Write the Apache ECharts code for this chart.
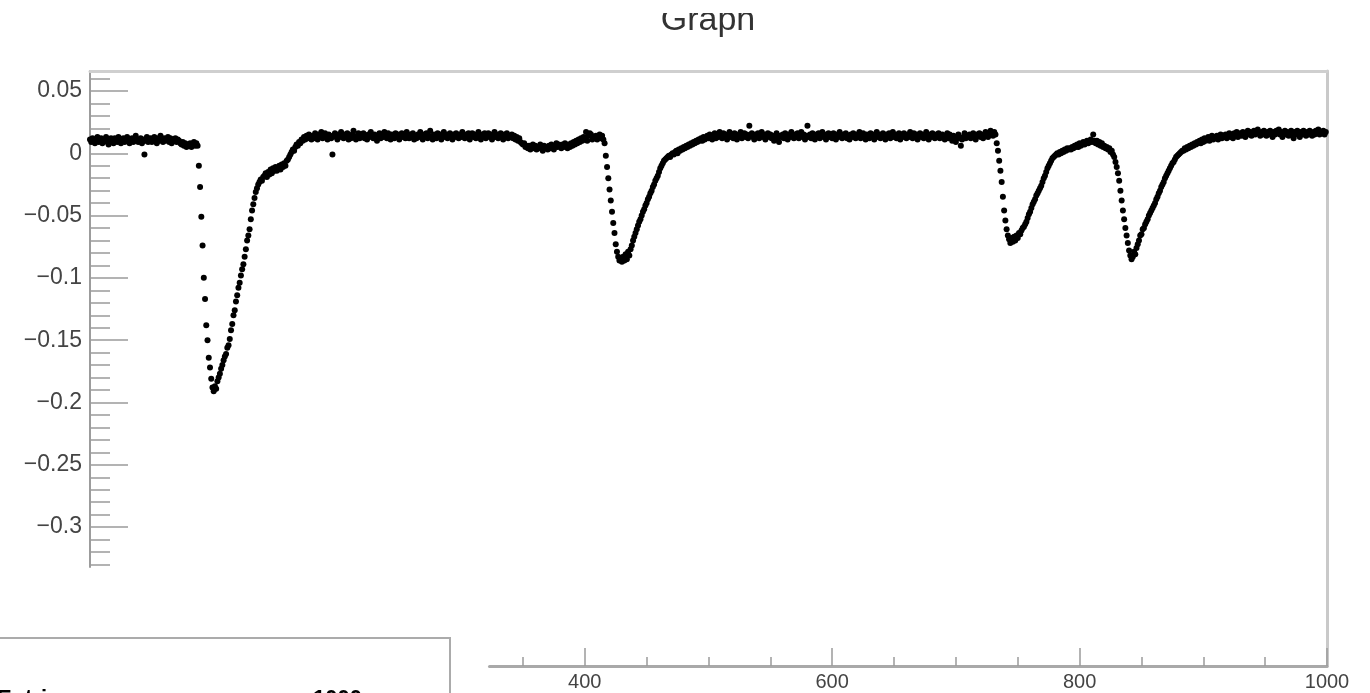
<!DOCTYPE html>
<html>
<head>
<meta charset="utf-8">
<script src="https://cdn.jsdelivr.net/npm/echarts@6/dist/echarts.min.js"></script>
<style>
  html, body { margin: 0; padding: 0; background: #fff; }
  #chart { width: 1370px; height: 693px; }
</style>
</head>
<body>
<div id="chart"></div>
<script>
// Sampled waveform: one value per sample index 0..999
const amplitude = [
  /*   0 */ 0.011, 0.009, 0.012, 0.010, 0.008, 0.011, 0.013, 0.009, 0.010, 0.012,
  /*  10 */ 0.008, 0.011, 0.010, 0.013, 0.009, 0.007, 0.011, 0.012, 0.010, 0.008,
  /*  20 */ 0.012, 0.010, 0.009, 0.013, 0.011, 0.008, 0.010, 0.012, 0.009, 0.011,
  /*  30 */ 0.013, 0.010, 0.008, 0.011, 0.012, 0.009, 0.010, 0.014, 0.011, 0.009,
  /*  40 */ 0.010, 0.012, 0.008, 0.011, -0.001, 0.010, 0.013, 0.009, 0.011, 0.012,
  /*  50 */ 0.009, 0.010, 0.013, 0.011, 0.008, 0.012, 0.010, 0.014, 0.011, 0.009,
  /*  60 */ 0.012, 0.010, 0.011, 0.013, 0.009, 0.012, 0.008, 0.011, 0.010, 0.012,
  /*  70 */ 0.009, 0.011, 0.010, 0.008, 0.007, 0.009, 0.006, 0.008, 0.005, 0.007,
  /*  80 */ 0.006, 0.008, 0.005, 0.007, 0.009, 0.006, 0.008, 0.006, -0.010, -0.027,
  /*  90 */ -0.051, -0.074, -0.100, -0.117, -0.138, -0.150, -0.164, -0.172, -0.181, -0.188,
  /* 100 */ -0.191, -0.187, -0.189, -0.183, -0.180, -0.177, -0.173, -0.170, -0.166, -0.163,
  /* 110 */ -0.161, -0.156, -0.154, -0.149, -0.142, -0.137, -0.130, -0.126, -0.119, -0.114,
  /* 120 */ -0.108, -0.104, -0.098, -0.093, -0.089, -0.083, -0.077, -0.070, -0.066, -0.061,
  /* 130 */ -0.053, -0.046, -0.041, -0.036, -0.031, -0.028, -0.025, -0.023, -0.021, -0.022,
  /* 140 */ -0.019, -0.018, -0.016, -0.019, -0.015, -0.017, -0.013, -0.016, -0.012, -0.014,
  /* 150 */ -0.011, -0.014, -0.012, -0.010, -0.013, -0.009, -0.011, -0.008, -0.010, -0.006,
  /* 160 */ -0.005, -0.003, -0.001, 0.001, 0.003, 0.002, 0.005, 0.007, 0.006, 0.009,
  /* 170 */ 0.008, 0.011, 0.010, 0.013, 0.011, 0.014, 0.012, 0.015, 0.013, 0.011,
  /* 180 */ 0.014, 0.012, 0.016, 0.013, 0.011, 0.015, 0.013, 0.017, 0.012, 0.014,
  /* 190 */ 0.016, 0.013, 0.011, 0.015, 0.014, 0.012, -0.001, 0.014, 0.016, 0.013,
  /* 200 */ 0.011, 0.015, 0.013, 0.017, 0.014, 0.012, 0.015, 0.013, 0.016, 0.011,
  /* 210 */ 0.014, 0.012, 0.015, 0.018, 0.013, 0.011, 0.014, 0.016, 0.012, 0.015,
  /* 220 */ 0.013, 0.016, 0.012, 0.014, 0.011, 0.015, 0.013, 0.017, 0.014, 0.012,
  /* 230 */ 0.015, 0.013, 0.010, 0.014, 0.016, 0.012, 0.015, 0.013, 0.017, 0.014,
  /* 240 */ 0.012, 0.016, 0.013, 0.011, 0.015, 0.014, 0.012, 0.016, 0.013, 0.015,
  /* 250 */ 0.011, 0.014, 0.016, 0.013, 0.015, 0.012, 0.017, 0.014, 0.012, 0.015,
  /* 260 */ 0.013, 0.016, 0.011, 0.014, 0.012, 0.015, 0.013, 0.017, 0.014, 0.011,
  /* 270 */ 0.015, 0.013, 0.016, 0.012, 0.014, 0.018, 0.013, 0.011, 0.015, 0.014,
  /* 280 */ 0.012, 0.016, 0.013, 0.015, 0.011, 0.014, 0.017, 0.013, 0.015, 0.012,
  /* 290 */ 0.014, 0.016, 0.013, 0.011, 0.015, 0.013, 0.016, 0.014, 0.012, 0.015,
  /* 300 */ 0.013, 0.017, 0.014, 0.012, 0.015, 0.013, 0.016, 0.011, 0.014, 0.016,
  /* 310 */ 0.013, 0.015, 0.012, 0.014, 0.017, 0.013, 0.011, 0.015, 0.014, 0.016,
  /* 320 */ 0.012, 0.014, 0.016, 0.013, 0.015, 0.011, 0.014, 0.017, 0.013, 0.015,
  /* 330 */ 0.012, 0.014, 0.016, 0.013, 0.011, 0.015, 0.013, 0.016, 0.012, 0.014,
  /* 340 */ 0.013, 0.015, 0.012, 0.014, 0.011, 0.013, 0.010, 0.012, 0.009, 0.008,
  /* 350 */ 0.007, 0.008, 0.005, 0.006, 0.004, 0.006, 0.003, 0.005, 0.007, 0.004,
  /* 360 */ 0.006, 0.003, 0.005, 0.004, 0.007, 0.005, 0.002, 0.006, 0.004, 0.005,
  /* 370 */ 0.003, 0.006, 0.004, 0.007, 0.005, 0.003, 0.006, 0.008, 0.005, 0.007,
  /* 380 */ 0.006, 0.004, 0.007, 0.005, 0.008, 0.006, 0.004, 0.007, 0.005, 0.008,
  /* 390 */ 0.006, 0.009, 0.007, 0.010, 0.008, 0.011, 0.009, 0.012, 0.010, 0.013,
  /* 400 */ 0.011, 0.017, 0.010, 0.014, 0.016, 0.015, 0.011, 0.013, 0.012, 0.014,
  /* 410 */ 0.011, 0.013, 0.015, 0.012, 0.014, 0.011, 0.008, -0.002, -0.011, -0.020,
  /* 420 */ -0.029, -0.038, -0.047, -0.056, -0.064, -0.073, -0.079, -0.083, -0.086, -0.084,
  /* 430 */ -0.087, -0.083, -0.086, -0.081, -0.085, -0.079, -0.082, -0.077, -0.074, -0.070,
  /* 440 */ -0.067, -0.064, -0.061, -0.058, -0.055, -0.053, -0.050, -0.047, -0.045, -0.042,
  /* 450 */ -0.040, -0.037, -0.035, -0.032, -0.030, -0.027, -0.025, -0.022, -0.020, -0.018,
  /* 460 */ -0.015, -0.012, -0.010, -0.008, -0.006, -0.005, -0.004, -0.003, -0.002, -0.003,
  /* 470 */ -0.001, 0.000, -0.001, 0.001, 0.002, 0.000, 0.003, 0.002, 0.004, 0.003,
  /* 480 */ 0.005, 0.004, 0.006, 0.005, 0.007, 0.006, 0.008, 0.007, 0.009, 0.008,
  /* 490 */ 0.010, 0.009, 0.011, 0.010, 0.012, 0.010, 0.013, 0.011, 0.012, 0.014,
  /* 500 */ 0.012, 0.015, 0.013, 0.011, 0.014, 0.016, 0.012, 0.015, 0.013, 0.017,
  /* 510 */ 0.014, 0.012, 0.016, 0.013, 0.015, 0.011, 0.014, 0.017, 0.013, 0.015,
  /* 520 */ 0.012, 0.016, 0.014, 0.011, 0.015, 0.013, 0.017, 0.012, 0.014, 0.016,
  /* 530 */ 0.013, 0.015, 0.012, 0.022, 0.014, 0.016, 0.013, 0.011, 0.015, 0.013,
  /* 540 */ 0.016, 0.012, 0.014, 0.017, 0.013, 0.015, 0.011, 0.014, 0.016, 0.013,
  /* 550 */ 0.015, 0.012, 0.014, 0.010, 0.013, 0.016, 0.012, 0.009, 0.014, 0.013,
  /* 560 */ 0.015, 0.012, 0.016, 0.014, 0.011, 0.015, 0.013, 0.017, 0.014, 0.012,
  /* 570 */ 0.015, 0.013, 0.016, 0.012, 0.014, 0.017, 0.013, 0.015, 0.011, 0.014,
  /* 580 */ 0.022, 0.013, 0.015, 0.012, 0.016, 0.014, 0.011, 0.015, 0.013, 0.016,
  /* 590 */ 0.012, 0.014, 0.017, 0.013, 0.015, 0.011, 0.014, 0.016, 0.013, 0.015,
  /* 600 */ 0.012, 0.016, 0.014, 0.011, 0.015, 0.013, 0.017, 0.014, 0.012, 0.015,
  /* 610 */ 0.013, 0.016, 0.012, 0.014, 0.011, 0.015, 0.013, 0.016, 0.014, 0.012,
  /* 620 */ 0.015, 0.013, 0.017, 0.012, 0.014, 0.016, 0.013, 0.011, 0.015, 0.014,
  /* 630 */ 0.012, 0.016, 0.013, 0.015, 0.011, 0.014, 0.017, 0.013, 0.015, 0.012,
  /* 640 */ 0.014, 0.016, 0.013, 0.011, 0.015, 0.013, 0.016, 0.012, 0.014, 0.017,
  /* 650 */ 0.013, 0.015, 0.012, 0.014, 0.016, 0.011, 0.015, 0.013, 0.016, 0.014,
  /* 660 */ 0.012, 0.015, 0.013, 0.017, 0.014, 0.012, 0.016, 0.013, 0.015, 0.011,
  /* 670 */ 0.014, 0.016, 0.013, 0.015, 0.012, 0.014, 0.017, 0.013, 0.011, 0.015,
  /* 680 */ 0.013, 0.016, 0.014, 0.012, 0.015, 0.013, 0.016, 0.012, 0.014, 0.015,
  /* 690 */ 0.013, 0.011, 0.014, 0.016, 0.012, 0.015, 0.013, 0.010, 0.014, 0.012,
  /* 700 */ 0.009, 0.013, 0.015, 0.012, 0.006, 0.011, 0.013, 0.016, 0.012, 0.014,
  /* 710 */ 0.013, 0.015, 0.012, 0.014, 0.016, 0.013, 0.011, 0.015, 0.014, 0.016,
  /* 720 */ 0.013, 0.015, 0.012, 0.014, 0.017, 0.015, 0.013, 0.016, 0.018, 0.015,
  /* 730 */ 0.014, 0.017, 0.015, 0.008, 0.002, -0.006, -0.014, -0.023, -0.035, -0.046,
  /* 740 */ -0.054, -0.061, -0.066, -0.069, -0.072, -0.068, -0.071, -0.067, -0.070, -0.066,
  /* 750 */ -0.068, -0.064, -0.065, -0.062, -0.060, -0.059, -0.057, -0.055, -0.052, -0.049,
  /* 760 */ -0.047, -0.044, -0.041, -0.039, -0.037, -0.034, -0.032, -0.030, -0.028, -0.026,
  /* 770 */ -0.023, -0.020, -0.018, -0.015, -0.012, -0.010, -0.008, -0.006, -0.004, -0.003,
  /* 780 */ -0.002, -0.001, 0.000, -0.001, 0.001, 0.000, 0.002, 0.001, 0.003, 0.002,
  /* 790 */ 0.004, 0.003, 0.004, 0.003, 0.005, 0.004, 0.006, 0.005, 0.007, 0.005,
  /* 800 */ 0.008, 0.006, 0.007, 0.009, 0.007, 0.008, 0.010, 0.008, 0.009, 0.011,
  /* 810 */ 0.009, 0.015, 0.010, 0.008, 0.010, 0.007, 0.009, 0.006, 0.008, 0.005,
  /* 820 */ 0.006, 0.004, 0.005, 0.003, 0.004, 0.001, 0.002, -0.001, -0.003, -0.007,
  /* 830 */ -0.011, -0.016, -0.022, -0.030, -0.038, -0.046, -0.053, -0.060, -0.066, -0.072,
  /* 840 */ -0.078, -0.082, -0.085, -0.083, -0.079, -0.081, -0.076, -0.073, -0.070, -0.066,
  /* 850 */ -0.065, -0.061, -0.060, -0.057, -0.055, -0.053, -0.050, -0.048, -0.046, -0.044,
  /* 860 */ -0.042, -0.040, -0.037, -0.035, -0.032, -0.030, -0.027, -0.025, -0.023, -0.020,
  /* 870 */ -0.018, -0.016, -0.014, -0.012, -0.010, -0.008, -0.007, -0.005, -0.003, -0.002,
  /* 880 */ -0.001, 0.000, 0.001, 0.002, 0.002, 0.004, 0.003, 0.005, 0.004, 0.006,
  /* 890 */ 0.005, 0.007, 0.006, 0.008, 0.007, 0.009, 0.008, 0.010, 0.008, 0.011,
  /* 900 */ 0.009, 0.012, 0.010, 0.011, 0.013, 0.010, 0.012, 0.014, 0.011, 0.013,
  /* 910 */ 0.012, 0.014, 0.011, 0.013, 0.015, 0.012, 0.014, 0.013, 0.015, 0.012,
  /* 920 */ 0.014, 0.016, 0.013, 0.015, 0.012, 0.016, 0.014, 0.017, 0.013, 0.015,
  /* 930 */ 0.016, 0.014, 0.017, 0.015, 0.013, 0.016, 0.018, 0.015, 0.017, 0.014,
  /* 940 */ 0.016, 0.018, 0.015, 0.017, 0.019, 0.016, 0.014, 0.017, 0.015, 0.018,
  /* 950 */ 0.016, 0.014, 0.017, 0.015, 0.018, 0.016, 0.013, 0.017, 0.015, 0.018,
  /* 960 */ 0.016, 0.019, 0.015, 0.017, 0.013, 0.016, 0.018, 0.015, 0.017, 0.014,
  /* 970 */ 0.016, 0.018, 0.015, 0.012, 0.017, 0.015, 0.018, 0.016, 0.013, 0.017,
  /* 980 */ 0.015, 0.018, 0.016, 0.014, 0.017, 0.015, 0.018, 0.016, 0.014, 0.017,
  /* 990 */ 0.015, 0.018, 0.016, 0.019, 0.015, 0.017, 0.016, 0.018, 0.015, 0.017
];

// Axis ticks and labels
const yMajorTicks = [-0.3, -0.25, -0.2, -0.15, -0.1, -0.05, 0, 0.05];
const yMinorTicks = [-0.33, -0.32, -0.31, -0.29, -0.28, -0.27, -0.26, -0.24, -0.23, -0.22, -0.21,
  -0.19, -0.18, -0.17, -0.16, -0.14, -0.13, -0.12, -0.11, -0.09, -0.08, -0.07, -0.06,
  -0.04, -0.03, -0.02, -0.01, 0.01, 0.02, 0.03, 0.04, 0.06];
const xMajorTicks = [400, 600, 800, 1000];
const xMinorTicks = [350, 450, 500, 550, 650, 700, 750, 850, 900, 950];

// Stats box line (only its top edge shows inside the canvas)
const statsLabels = ['Entries', '1000'];

const FONT = '"Liberation Sans", Arial, Helvetica, sans-serif';
const Y_MIN = -0.332, Y_MAX = 0.066;
const X_MIN = 0, X_MAX = 1000;

const points = amplitude.map((v, i) => [i, v]);

const fmtY = v => {
  if (Math.abs(v) < 1e-9) return '0';
  return String(+v.toFixed(2)).replace('-', '\u2212');
};
const fmtX = v => String(Math.round(v));

const chart = echarts.init(document.getElementById('chart'), null, { renderer: 'canvas' });

chart.setOption({
  animation: false,
  backgroundColor: '#ffffff',
  grid: [
    // plotting frame with the y axis
    { left: 90, top: 71, width: 1237, height: 496 },
    // lower frame part carrying the x axis
    { left: 489.5, top: 71, width: 837.5, height: 595 }
  ],
  xAxis: [
    {
      gridIndex: 0, type: 'value', position: 'top', min: X_MIN, max: X_MAX,
      axisLine: { show: true, onZero: false, lineStyle: { color: '#cfcfcf', width: 3 } },
      axisTick: { show: false }, axisLabel: { show: false }, splitLine: { show: false }
    },
    {
      gridIndex: 1, type: 'value', position: 'bottom', min: 323, max: X_MAX,
      axisLine: { show: true, onZero: false, lineStyle: { color: '#a9a9a9', width: 3 } },
      axisTick: { show: true, inside: true, length: 9, customValues: xMinorTicks,
        lineStyle: { color: '#9a9a9a', width: 1.5 } },
      axisLabel: { show: true, customValues: xMajorTicks, formatter: fmtX, fontSize: 20,
        color: '#444', fontFamily: FONT, margin: 6 },
      splitLine: { show: false }
    },
    {
      gridIndex: 1, type: 'value', position: 'bottom', min: 323, max: X_MAX,
      axisLine: { show: false, onZero: false },
      axisTick: { show: true, inside: true, length: 18, customValues: xMajorTicks,
        lineStyle: { color: '#9a9a9a', width: 1.5 } },
      axisLabel: { show: false }, splitLine: { show: false }
    }
  ],
  yAxis: [
    {
      gridIndex: 0, type: 'value', position: 'left', min: Y_MIN, max: Y_MAX,
      axisLine: { show: true, onZero: false, lineStyle: { color: '#9c9c9c', width: 2 } },
      axisTick: { show: true, inside: true, length: 38, customValues: yMajorTicks,
        lineStyle: { color: '#9a9a9a', width: 1.5 } },
      axisLabel: { show: true, customValues: yMajorTicks, formatter: fmtY, fontSize: 23,
        color: '#444', fontFamily: FONT, margin: 8 },
      splitLine: { show: false }
    },
    {
      gridIndex: 0, type: 'value', position: 'left', min: Y_MIN, max: Y_MAX,
      axisLine: { show: false, onZero: false },
      axisTick: { show: true, inside: true, length: 20, customValues: yMinorTicks,
        lineStyle: { color: '#9a9a9a', width: 1.5 } },
      axisLabel: { show: false }, splitLine: { show: false }
    },
    {
      gridIndex: 1, type: 'value', position: 'right', min: 0, max: 1,
      axisLine: { show: true, onZero: false, lineStyle: { color: '#c9c9c9', width: 3 } },
      axisTick: { show: false }, axisLabel: { show: false }, splitLine: { show: false }
    }
  ],
  series: [
    {
      type: 'scatter',
      xAxisIndex: 0,
      yAxisIndex: 0,
      data: points,
      symbol: 'circle',
      symbolSize: 6,
      itemStyle: { color: '#000000', opacity: 1 },
      silent: true,
      z: 5
    }
  ],
  graphic: [
    {
      type: 'text', x: 708, y: 21, z: 5,
      style: { text: 'Graph', font: '34px ' + FONT, fill: '#333', textAlign: 'center', verticalAlign: 'middle' }
    },
    {
      type: 'rect', z: 6, silent: true,
      shape: { x: 600, y: 0, width: 220, height: 13 },
      style: { fill: '#ffffff' }
    },
    {
      type: 'rect', z: 6,
      shape: { x: -10, y: 638, width: 460, height: 80 },
      style: { fill: '#ffffff', stroke: '#ababab', lineWidth: 2 }
    },
    {
      type: 'text', x: -3, y: 688, z: 7,
      style: { text: statsLabels[0], font: 'bold 22px ' + FONT, fill: '#000', verticalAlign: 'top' }
    },
    {
      type: 'text', x: 313, y: 688, z: 7,
      style: { text: statsLabels[1], font: 'bold 22px ' + FONT, fill: '#000', verticalAlign: 'top' }
    }
  ]
});
</script>
</body>
</html>
